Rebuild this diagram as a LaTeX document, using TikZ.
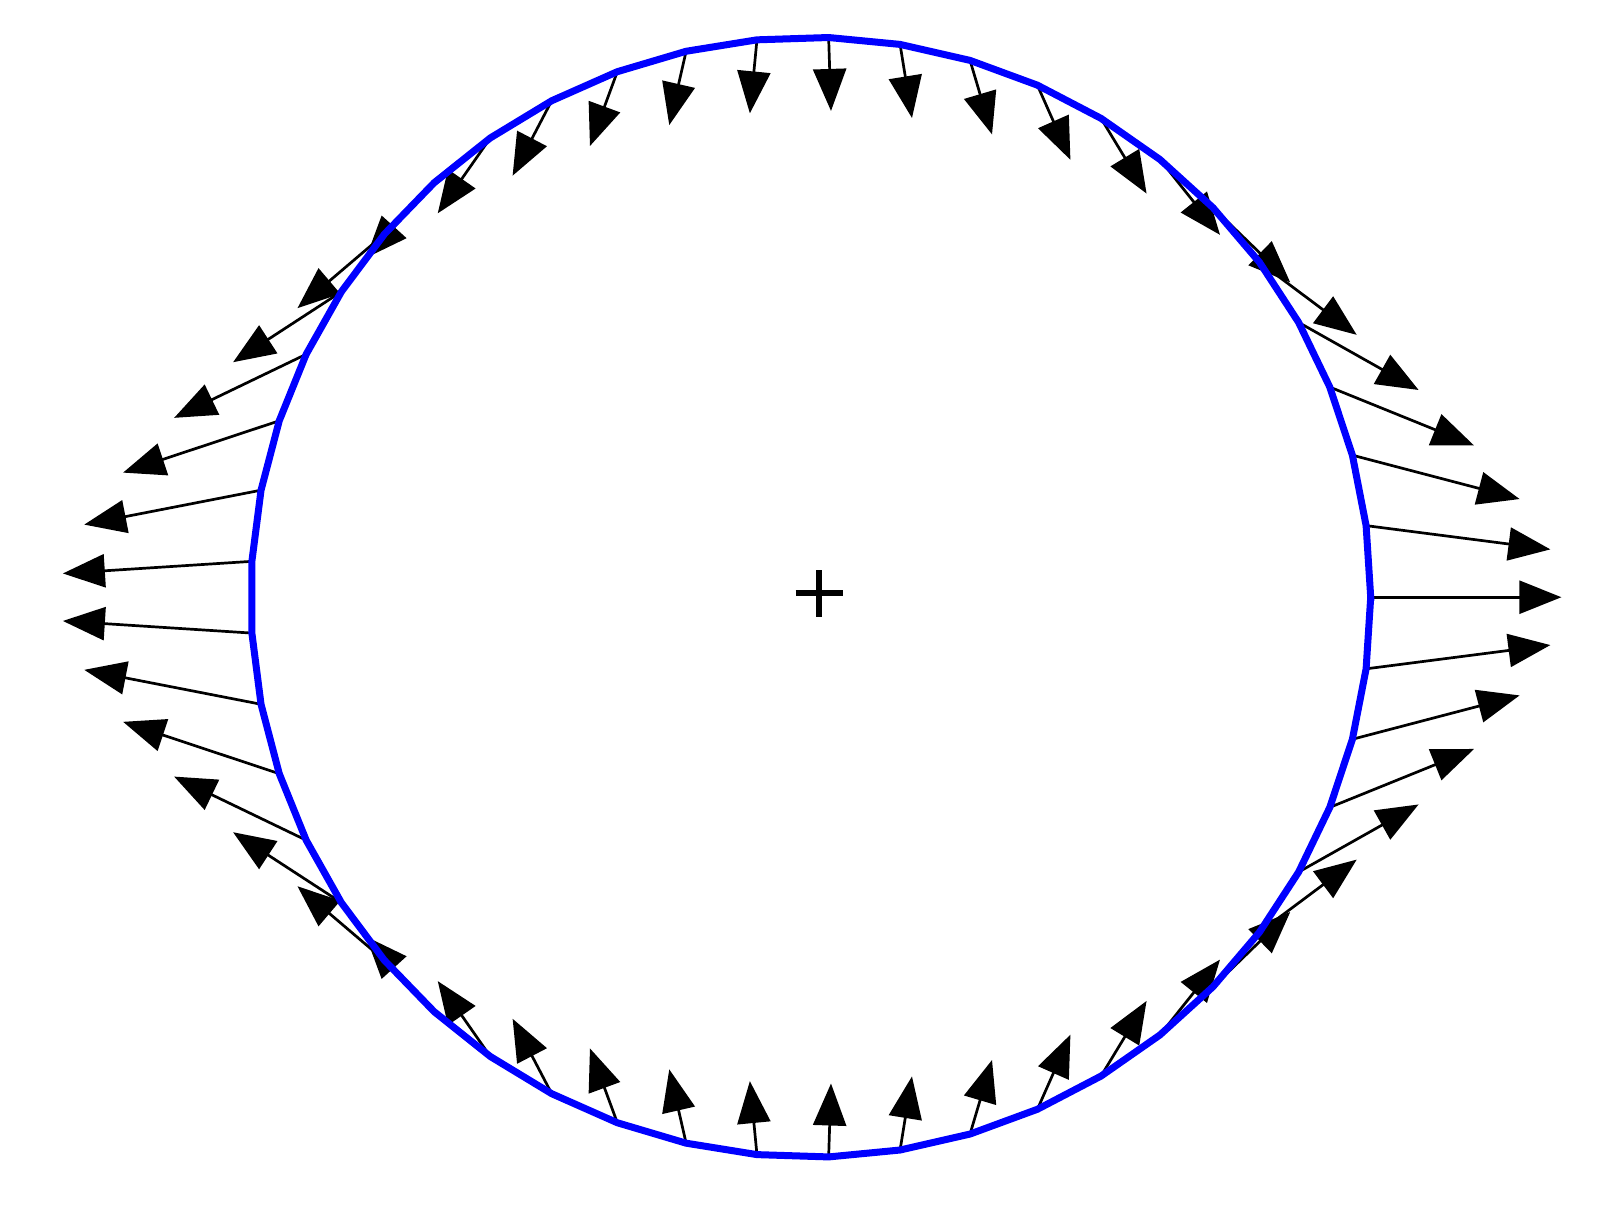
\documentclass[tikz,border=0pt]{standalone}
\usetikzlibrary{arrows.meta}
\begin{document}
\begin{tikzpicture}[x=0.1mm,y=0.1mm]
\useasboundingbox (0,0) rectangle (1622,-1216);

% vectors at the vertices
\foreach \k in {0,...,48}{
  \pgfmathsetmacro{\t}{\k*7.346939}
  \pgfmathsetmacro{\g}{106/(1-0.444*cos(2*\t))}
  \draw[line width=.27mm,-{Triangle[length=4.2mm,width=3.3mm]}]
    ({810.7+560*cos(\t)},{-597.2+560*sin(\t)}) -- ++({\g*cos(\t)},{-\g*sin(\t)});
}

% boundary
\draw[blue,line width=.7mm] plot[domain=0:360,samples=50]
  ({810.7+560*cos(\x)},{-597.2+560*sin(\x)}) -- cycle;

% centre
\coordinate (centre) at (819,-593.3);
\draw[line width=.6mm] ([xshift=-2.35mm]centre) -- ([xshift=2.35mm]centre);
\draw[line width=.6mm] ([yshift=-2.35mm]centre) -- ([yshift=2.35mm]centre);
\end{tikzpicture}
\end{document}
